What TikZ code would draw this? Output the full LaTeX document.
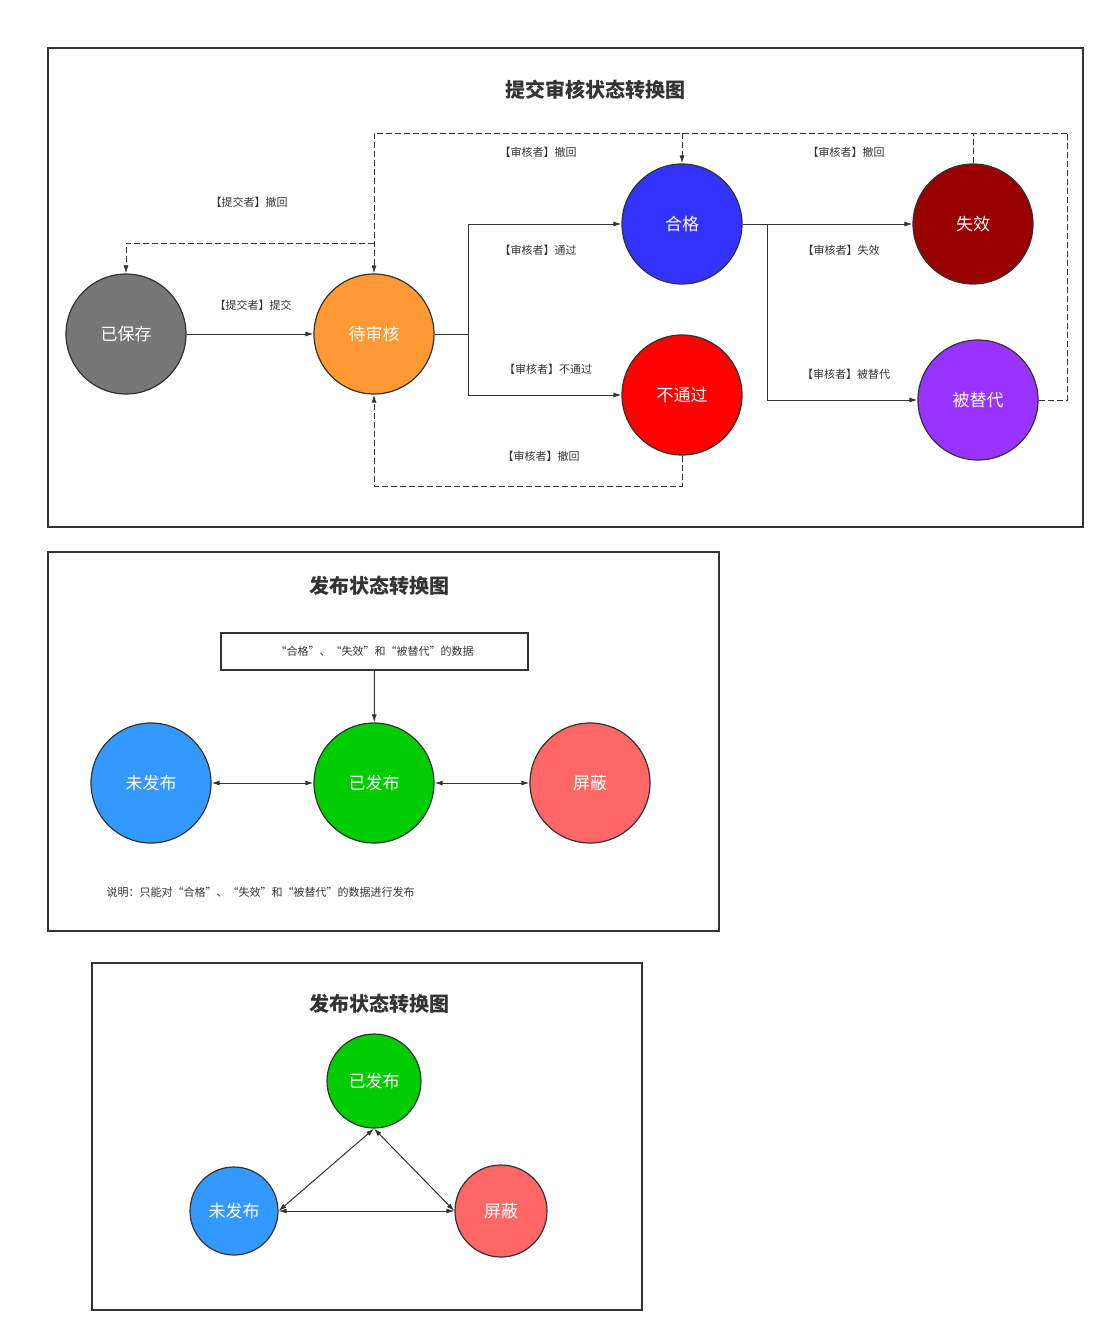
\documentclass[tikz,border=0pt]{standalone}
\usepackage{fontspec}
\setmainfont{Noto Sans CJK SC}
\newfontfamily\cjkb[BoldFont={Noto Sans CJK SC Bold}]{Noto Sans CJK SC}
\usetikzlibrary{arrows.meta}
\definecolor{line}{HTML}{333333}
\begin{document}
\begin{tikzpicture}[x=1pt,y=-1pt,
  st/.style={circle,draw=line,line width=1.2pt,minimum size=#1,text=white,font=\fontsize{17}{20}\selectfont,inner sep=0},
  st/.default=120pt,
  ar/.style={draw=line,line width=1pt,-{Latex[length=8pt,width=5pt]}},
  dar/.style={draw=line,line width=1pt,{Latex[length=8pt,width=5pt]}-{Latex[length=8pt,width=5pt]}},
  dsh/.style={ar,dashed,dash pattern=on 6pt off 3pt},
  lab/.style={font=\fontsize{11}{13}\selectfont,text=line},
  ttl/.style={font=\fontsize{20}{24}\selectfont\bfseries,text=line},
  frm/.style={draw=line,line width=1.2pt}]
\useasboundingbox (0,0) rectangle (1115,1341);
% ---------- top ----------
\draw[frm] (48,48) rectangle (1083,527);
\node[ttl] (t1) at (595,90) {提交审核状态转换图};
\node[st,fill={rgb,255:red,119;green,119;blue,119}] (s0) at (126,334) {已保存};
\node[st,fill={rgb,255:red,255;green,153;blue,51}] (s1) at (374,334) {待审核};
\node[st,fill={rgb,255:red,51;green,51;blue,255}] (s2) at (682,224) {合格};
\node[st,fill={rgb,255:red,255;green,0;blue,0}] (s3) at (682,395) {不通过};
\node[st,fill={rgb,255:red,153;green,0;blue,0}] (s4) at (973,224) {失效};
\node[st,fill={rgb,255:red,153;green,51;blue,255}] (s5) at (978,400) {被替代};
\coordinate (j1) at (468,334);
\coordinate (j2) at (767,224);
\draw[ar] (s0) -- (s1);
\draw[draw=line,line width=1pt] (s1.east) -- (j1);
\draw[ar] (j1) |- (s2.west);
\draw[ar] (j1) |- (s3.west);
\draw[ar] (s2.east) -- (s4.west);
\draw[ar] (j2) |- (s5.west);
\draw[dsh] (374,243) -| (s0.north);
\draw[dsh] (1067,133) -- (374,133) -- (s1.north);
\draw[dsh] (682,133) -- (s2.north);
\draw[draw=line,line width=1pt,dashed,dash pattern=on 6pt off 3pt] (s4.north) -- (973,133);
\draw[draw=line,line width=1pt,dashed,dash pattern=on 6pt off 3pt] (s5.east) -- (1067,400) -- (1067,133);
\draw[dsh] (s3.south) -- (682,486) -- (374,486) -- (s1.south);
\node[lab] (l1) at (253,305) {【提交者】提交};
\node[lab] (l2) at (249,202) {【提交者】撤回};
\node[lab] (l3) at (538,152) {【审核者】撤回};
\node[lab] (l4) at (846,152) {【审核者】撤回};
\node[lab] (l5) at (538,250) {【审核者】通过};
\node[lab] (l6) at (548,369) {【审核者】不通过};
\node[lab] (l7) at (841,250) {【审核者】失效};
\node[lab] (l8) at (846,374) {【审核者】被替代};
\node[lab] (l9) at (541,456) {【审核者】撤回};
% ---------- middle ----------
\draw[frm] (48,552) rectangle (719,931);
\node[ttl] (t2) at (379,586) {发布状态转换图};
\node[draw=line,line width=1.2pt,minimum width=307pt,minimum height=37pt,lab] (bx) at (374.5,651.5) {“合格”、“失效”和“被替代”的数据};
\node[st,fill={rgb,255:red,51;green,153;blue,255}] (m1) at (151,783) {未发布};
\node[st,fill={rgb,255:red,0;green,204;blue,0}] (m2) at (374,783) {已发布};
\node[st,fill={rgb,255:red,255;green,102;blue,102}] (m3) at (590,783) {屏蔽};
\draw[ar] (bx) -- (m2);
\draw[dar] (m1) -- (m2);
\draw[dar] (m2) -- (m3);
\node[lab,anchor=west] (nt) at (103,892) {说明：只能对“合格”、“失效”和“被替代”的数据进行发布};
% ---------- bottom ----------
\draw[frm] (92,963) rectangle (642,1310);
\node[ttl] (t3) at (379,1004) {发布状态转换图};
\node[st=94pt,fill={rgb,255:red,0;green,204;blue,0}] (b2) at (374,1081) {已发布};
\node[st=88pt,fill={rgb,255:red,51;green,153;blue,255}] (b1) at (234,1211) {未发布};
\node[st=92pt,fill={rgb,255:red,255;green,102;blue,102}] (b3) at (501,1211) {屏蔽};
\draw[dar] (b2.south) -- (b1.east);
\draw[dar] (b2.south) -- (b3.west);
\draw[dar] (b1.east) -- (b3.west);
\end{tikzpicture}
\end{document}
